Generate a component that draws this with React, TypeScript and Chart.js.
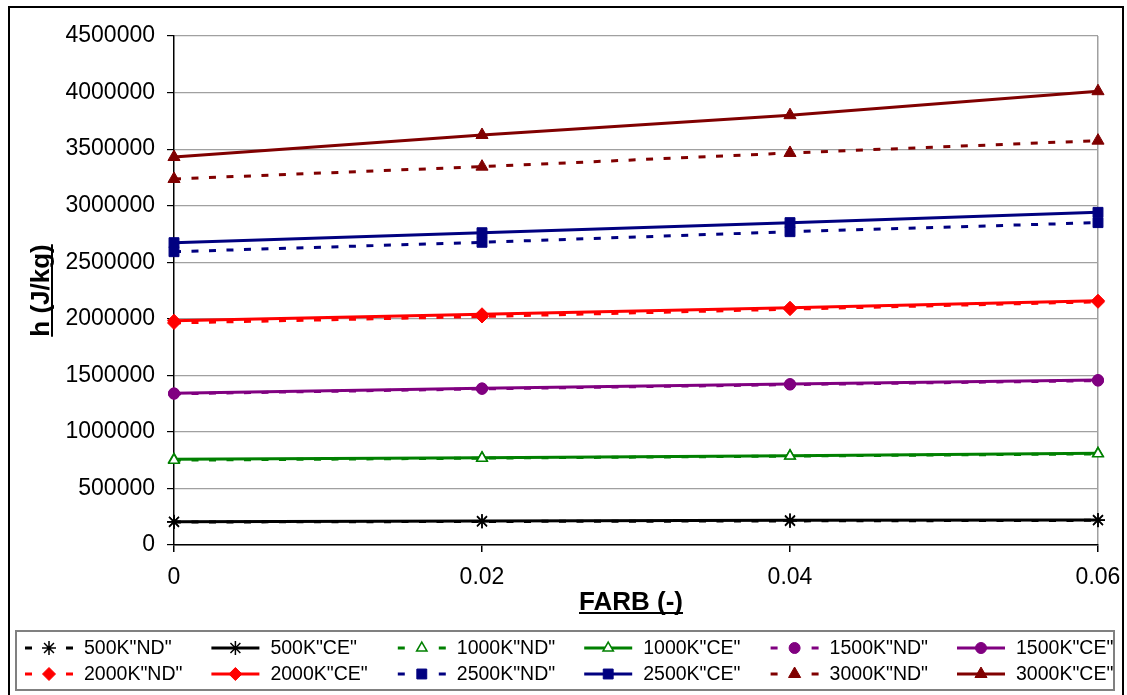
import React, { useEffect, useRef } from "react";
import { Chart, registerables } from "chart.js";
import { drawPoint } from "chart.js/helpers";

Chart.register(...registerables);

const FONT = "'Liberation Sans', Arial, sans-serif";

const xLabels = ["0", "0.02", "0.04", "0.06"];
const yTickValues = [0, 500000, 1000000, 1500000, 2000000, 2500000, 3000000, 3500000, 4000000, 4500000];

const s500ND = [203000, 208000, 213000, 218000];
const s500CE = [206000, 212000, 218000, 222000];
const s1000ND = [750000, 768000, 786000, 806000];
const s1000CE = [758000, 772000, 790000, 811000];
const s1500ND = [1337000, 1380000, 1418000, 1453000];
const s1500CE = [1341000, 1385000, 1423000, 1459000];
const s2000ND = [1963000, 2020000, 2085000, 2150000];
const s2000CE = [1983000, 2040000, 2098000, 2160000];
const s2500ND = [2593000, 2676000, 2770000, 2850000];
const s2500CE = [2673000, 2761000, 2850000, 2941000];
const s3000ND = [3236000, 3345000, 3466000, 3575000];
const s3000CE = [3430000, 3625000, 3800000, 4012000];

const seriesNames = [
  '500K"ND"', '500K"CE"', '1000K"ND"', '1000K"CE"', '1500K"ND"', '1500K"CE"',
  '2000K"ND"', '2000K"CE"', '2500K"ND"', '2500K"CE"', '3000K"ND"', '3000K"CE"',
];
const seriesData = [
  s500ND, s500CE, s1000ND, s1000CE, s1500ND, s1500CE,
  s2000ND, s2000CE, s2500ND, s2500CE, s3000ND, s3000CE,
];

type Style = { color: string; point: string; radius: number; fill: string; bw: number };
const styles: Style[] = [
  { color: "#000000", point: "star", radius: 7, fill: "#000000", bw: 1.5 },
  { color: "#008000", point: "triangle", radius: 6, fill: "#ffffff", bw: 1.5 },
  { color: "#800080", point: "circle", radius: 5.5, fill: "#800080", bw: 1 },
  { color: "#ff0000", point: "rectRot", radius: 6.5, fill: "#ff0000", bw: 1 },
  { color: "#000080", point: "rect", radius: 7, fill: "#000080", bw: 1 },
  { color: "#800000", point: "triangle", radius: 7, fill: "#800000", bw: 1 },
];

const DASH = [7, 10.5];

const extrasPlugin = {
  id: "extras",
  afterDraw(chart: any) {
    const ctx: CanvasRenderingContext2D = chart.ctx;
    const ca = chart.chartArea;
    ctx.save();
    ctx.strokeStyle = "#000";
    ctx.lineWidth = 2;
    ctx.setLineDash([]);
    ctx.strokeRect(9, 7, 1114, 720);

    ctx.fillStyle = "#000";
    ctx.font = `bold 26px ${FONT}`;
    ctx.textAlign = "center";
    ctx.textBaseline = "alphabetic";
    const xt = "FARB (-)";
    const xcx = (ca.left + ca.right) / 2 - 5;
    const xby = 610;
    ctx.fillText(xt, xcx, xby);
    const xw = ctx.measureText(xt).width;
    ctx.fillRect(xcx - xw / 2, xby + 2, xw, 2);

    const yt = "h (J/kg)";
    ctx.translate(49, (ca.top + ca.bottom) / 2);
    ctx.rotate(-Math.PI / 2);
    ctx.fillText(yt, 0, 0);
    const yw = ctx.measureText(yt).width;
    ctx.fillRect(-yw / 2, 2, yw, 2);
    ctx.setTransform(1, 0, 0, 1, 0, 0);

    ctx.strokeStyle = "#808080";
    ctx.lineWidth = 2;
    ctx.strokeRect(16, 631, 1098, 59);

    ctx.font = `19.5px ${FONT}`;
    ctx.textAlign = "left";
    ctx.textBaseline = "middle";
    for (let i = 0; i < seriesNames.length; i++) {
      const row = Math.floor(i / 6);
      const col = i % 6;
      const st = styles[Math.floor(i / 2)];
      const nd = i % 2 === 0;
      const x0 = 25 + col * 186.4;
      const y0 = 648 + row * 26;
      ctx.strokeStyle = st.color;
      ctx.lineWidth = 3;
      ctx.setLineDash([]);
      ctx.beginPath();
      if (nd) {
        ctx.moveTo(x0, y0);
        ctx.lineTo(x0 + 7, y0);
        ctx.moveTo(x0 + 41, y0);
        ctx.lineTo(x0 + 48, y0);
      } else {
        ctx.moveTo(x0, y0);
        ctx.lineTo(x0 + 48, y0);
      }
      ctx.stroke();
      ctx.fillStyle = st.fill;
      ctx.strokeStyle = st.color;
      ctx.lineWidth = st.bw;
      drawPoint(ctx, { pointStyle: st.point, radius: st.radius, rotation: 0, borderWidth: st.bw } as any, x0 + 24, y0);
      ctx.fillStyle = "#000";
      ctx.fillText(seriesNames[i], x0 + 59, y0 + 1);
    }
    ctx.restore();
  },
};

export default function App() {
  const ref = useRef<HTMLCanvasElement | null>(null);
  useEffect(() => {
    document.body.style.margin = "0";
    const canvas = ref.current!;
    const datasets = seriesData.map((d, i) => {
      const st = styles[Math.floor(i / 2)];
      const nd = i % 2 === 0;
      return {
        label: seriesNames[i],
        data: d,
        borderColor: st.color,
        backgroundColor: st.fill,
        borderWidth: 3,
        borderDash: nd ? DASH : [],
        pointStyle: st.point,
        pointRadius: st.radius,
        pointBackgroundColor: st.fill,
        pointBorderColor: st.color,
        pointBorderWidth: st.bw,
        tension: 0,
        fill: false,
      };
    });
    const chart = new Chart(canvas, {
      type: "line",
      data: { labels: xLabels, datasets: datasets as any },
      options: {
        animation: false,
        responsive: false,
        devicePixelRatio: 1,
        layout: { padding: { top: 36, right: 29, left: 0, bottom: 0 } },
        plugins: { legend: { display: false }, tooltip: { enabled: false } },
        scales: {
          x: {
            type: "category",
            offset: false,
            grid: {
              color: (c: any) => (c.index === xLabels.length - 1 ? "#a0a0a0" : "rgba(0,0,0,0)"),
              tickColor: "#000",
              tickLength: 7,
              lineWidth: 1.5,
            },
            border: { color: "#000", width: 1.5 },
            ticks: { font: { family: FONT, size: 23 }, color: "#000", padding: 12, maxRotation: 0 },
            afterFit: (s: any) => { s.height = 150; s.paddingRight = 0; s.paddingLeft = 0; },
          },
          y: {
            type: "linear",
            min: yTickValues[0],
            max: yTickValues[yTickValues.length - 1],
            afterBuildTicks: (s: any) => { s.ticks = yTickValues.map((v) => ({ value: v })); },
            grid: { color: "#a0a0a0", tickColor: "#000", tickLength: 7, lineWidth: 1.2 },
            border: { color: "#000", width: 1.5 },
            ticks: {
              font: { family: FONT, size: 23 },
              color: "#000",
              padding: 12,
              callback: (v: any) => String(v),
            },
            afterFit: (s: any) => { s.width = 174; },
          },
        },
      },
      plugins: [extrasPlugin],
    });
    return () => chart.destroy();
  }, []);
  return (
    <div style={{ width: 1127, height: 695, background: "#fff" }}>
      <canvas ref={ref} width={1127} height={695} style={{ display: "block" }} />
    </div>
  );
}
